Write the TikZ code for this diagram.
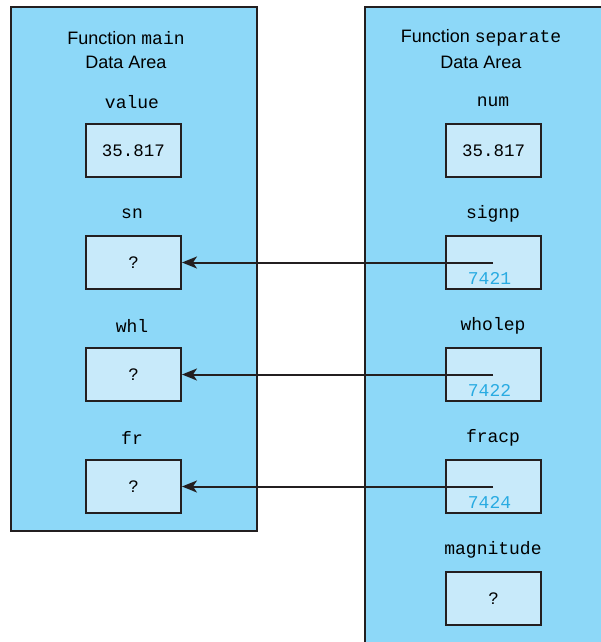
\documentclass[tikz,border=0pt]{standalone}
\usepackage{fontspec}
\setmainfont{Liberation Sans}
\setmonofont{Liberation Mono}
\usetikzlibrary{arrows.meta}
\definecolor{panelc}{HTML}{8DD8F8}
\definecolor{boxc}{HTML}{C8EAFA}
\definecolor{addrc}{HTML}{29ABE2}
\definecolor{linec}{HTML}{231F20}
\begin{document}
\begin{tikzpicture}[x=1pt,y=-1pt,
  panel/.style={draw=linec,fill=panelc,line width=2pt},
  cell/.style={draw=linec,fill=boxc,line width=2pt,minimum width=95pt,minimum height=53pt,inner sep=0pt,font=\fontsize{17.5}{20}\selectfont\ttfamily},
  vname/.style={font=\fontsize{18}{20}\selectfont\ttfamily,inner sep=0pt},
  title/.style={font=\fontsize{18}{24}\selectfont,align=center,inner sep=0pt},
  addr/.style={text=addrc,font=\fontsize{18}{20}\selectfont\ttfamily,inner sep=0pt},
  ptr/.style={draw=linec,line width=2pt,-{Stealth[length=15pt,width=12pt,inset=4pt]}}]
\useasboundingbox (0,0) rectangle (601,642);
\fill[white] (0,0) rectangle (601,642);
\draw[panel] (11,7) rectangle (257,531);
\draw[panel] (365,7) rectangle (612,652);
% left
\node[title] (tl1) at (126,38) {Function \texttt{main}};
\node[title] (tl2) at (126,62) {Data Area};
\node[vname] (lv) at (132,102) {value};
\node[cell] (value) at (133.5,150.5) {35.817\hspace{10pt}};
\node[vname] (lsn) at (132,214) {sn};
\node[cell] (sn) at (133.5,262.5) {?};
\node[vname] (lwhl) at (132,326) {whl};
\node[cell] (whl) at (133.5,374.5) {?};
\node[vname] (lfr) at (132,438) {fr};
\node[cell] (fr) at (133.5,486.5) {?};
% right
\node[title] (tr1) at (481,38) {Function \texttt{separate}};
\node[title] (tr2) at (481,62) {Data Area};
\node[vname] (rn) at (493,102) {num};
\node[cell] (num) at (493.5,150.5) {35.817\hspace{10pt}};
\node[vname] (rs) at (493,214) {signp};
\node[cell] (signp) at (493.5,262.5) {};
\node[vname] (rw) at (493,326) {wholep};
\node[cell] (wholep) at (493.5,374.5) {};
\node[vname] (rf) at (493,438) {fracp};
\node[cell] (fracp) at (493.5,486.5) {};
\node[vname] (rm) at (493,550) {magnitude};
\node[cell] (magnitude) at (493.5,598.5) {?};
\node[addr] (a1) at (489.5,278) {7421};
\node[addr] (a2) at (489.5,390) {7422};
\node[addr] (a3) at (489.5,502) {7424};
\coordinate (p1) at (493,262.5);
\coordinate (p2) at (493,374.5);
\coordinate (p3) at (493,486.5);
\draw[ptr] (p1) -- (sn.east);
\draw[ptr] (p2) -- (whl.east);
\draw[ptr] (p3) -- (fr.east);
\end{tikzpicture}
\end{document}
